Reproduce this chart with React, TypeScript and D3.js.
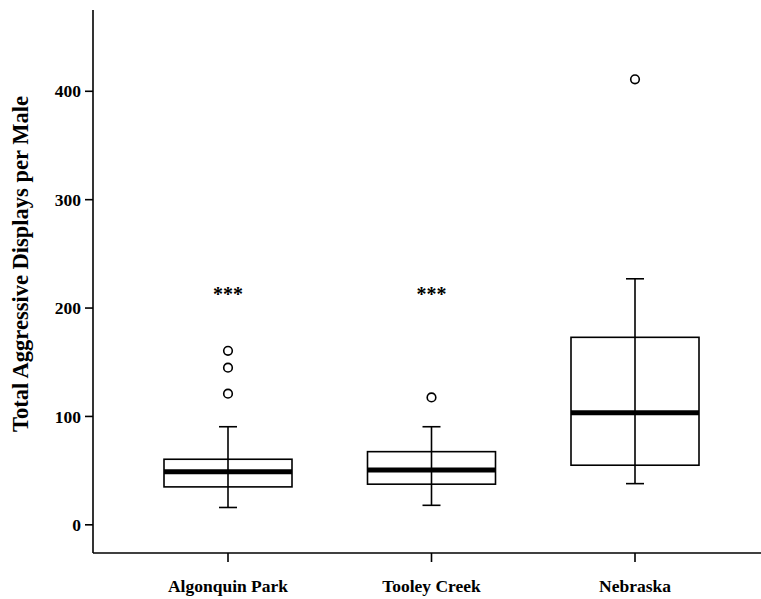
import React from 'react';
import * as d3 from 'd3';

const categories = ['Algonquin Park', 'Tooley Creek', 'Nebraska'];
const lowWhisker = [16, 18, 38];
const q1 = [35, 37.5, 55];
const median = [49, 50.5, 103.5];
const q3 = [60.5, 67.5, 173];
const highWhisker = [90.5, 90.5, 227];
const outliers = [[121, 145, 160.5], [117.5], [411]];
const stars = ['***', '***', ''];
const yTicks = [0, 100, 200, 300, 400];

const W = 761;
const H = 599;

export default function App() {
    const y = d3.scaleLinear().domain([-26, 475]).range([553, 10]);
    const x = d3.scalePoint().domain(categories).range([228, 635]);
    const boxW = 128;
    const capW = 18;
    const font = '"Liberation Serif", "Times New Roman", serif';

    return (
        <svg width={W} height={H} style={{position: 'absolute', left: 0, top: 0}}>
            {/* axes */}
            <line x1={93} x2={93} y1={y(475)} y2={y(-26)} stroke="#000" strokeWidth={1.6}/>
            <line x1={93} x2={W} y1={y(-26)} y2={y(-26)} stroke="#000" strokeWidth={1.6}/>
            {yTicks.map(t => (
                <g key={t}>
                    <line x1={85} x2={93} y1={y(t)} y2={y(t)} stroke="#000" strokeWidth={1.6}/>
                    <text x={81} y={y(t)} dy="0.35em" textAnchor="end" fontFamily={font}
                          fontWeight="bold" fontSize={17.5}>{t}</text>
                </g>
            ))}
            {categories.map(c => (
                <g key={c}>
                    <line x1={x(c)} x2={x(c)} y1={y(-26)} y2={y(-26) + 9} stroke="#000" strokeWidth={1.6}/>
                    <text x={x(c)} y={592} textAnchor="middle" fontFamily={font}
                          fontWeight="bold" fontSize={17.5}>{c}</text>
                </g>
            ))}
            <text transform={`translate(28,${y(200) - 44}) rotate(-90)`} textAnchor="middle"
                  fontFamily={font} fontWeight="bold" fontSize={22.5}>Total Aggressive Displays per Male</text>

            {/* boxes */}
            {categories.map((c, i) => {
                const cx = x(c) as number;
                return (
                    <g key={c} stroke="#000" fill="none">
                        <line x1={cx} x2={cx} y1={y(lowWhisker[i])} y2={y(highWhisker[i])} strokeWidth={1.6}/>
                        <line x1={cx - capW / 2} x2={cx + capW / 2} y1={y(lowWhisker[i])} y2={y(lowWhisker[i])} strokeWidth={1.6}/>
                        <line x1={cx - capW / 2} x2={cx + capW / 2} y1={y(highWhisker[i])} y2={y(highWhisker[i])} strokeWidth={1.6}/>
                        <rect x={cx - boxW / 2} y={y(q3[i])} width={boxW} height={y(q1[i]) - y(q3[i])}
                              strokeWidth={1.6}/>
                        <line x1={cx - boxW / 2} x2={cx + boxW / 2} y1={y(median[i])} y2={y(median[i])} strokeWidth={5}/>
                        {outliers[i].map((o, j) => (
                            <circle key={j} cx={cx} cy={y(o)} r={4.3} fill="#fff" strokeWidth={1.6}/>
                        ))}
                        {stars[i] && (
                            <text x={cx} y={y(215) + 9} textAnchor="middle" fontFamily={font}
                                  fontWeight="bold" fontSize={20} fill="#000" stroke="none">{stars[i]}</text>
                        )}
                    </g>
                );
            })}
        </svg>
    );
}
